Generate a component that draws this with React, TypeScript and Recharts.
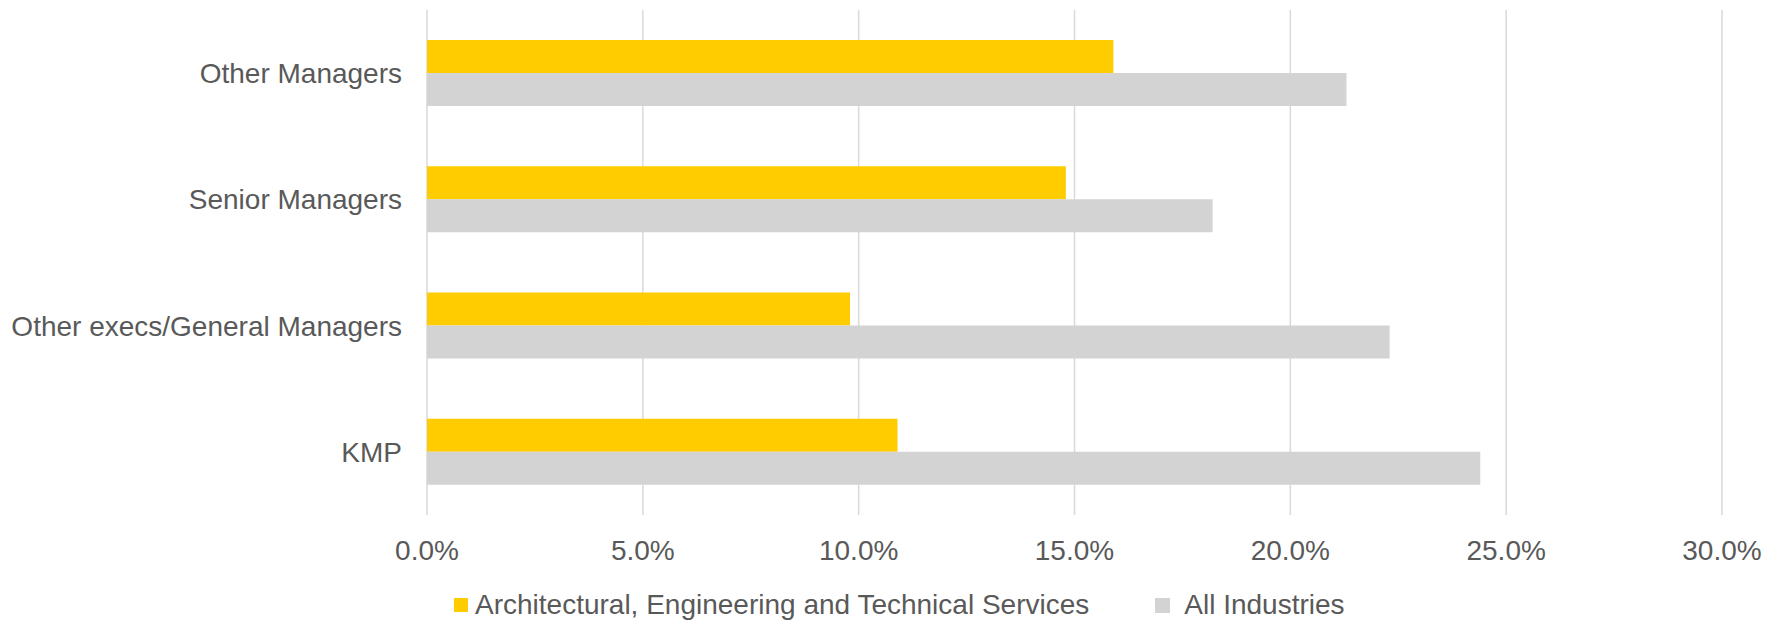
import React from "react";
import { BarChart, Bar, XAxis, YAxis, CartesianGrid } from "recharts";

const categories = ["Other Managers", "Senior Managers", "Other execs/General Managers", "KMP"];
const aetsValues = [15.9, 14.8, 9.8, 10.9];
const allIndustriesValues = [21.3, 18.2, 22.3, 24.4];
const xTicks = [0, 5, 10, 15, 20, 25, 30];
const seriesNames = ["Architectural, Engineering and Technical Services", "All Industries"];
const seriesColors = ["#FFCC00", "#D3D3D3"];

const data = categories.map((c, i) => ({
  name: c,
  aets: aetsValues[i],
  all: allIndustriesValues[i],
}));

const FONT = "'Liberation Sans', Arial, sans-serif";
const TEXT = "#595959";

export default function App() {
  return (
    <div style={{ position: "absolute", left: 0, top: 0, width: 1766, height: 621, background: "#fff", fontFamily: FONT }}>
      <BarChart
        width={1766}
        height={621}
        data={data}
        layout="vertical"
        margin={{ top: 10, right: 44, bottom: 66, left: 0 }}
        barCategoryGap={30}
        barGap={0}
      >
        <CartesianGrid horizontal={false} vertical={true} stroke="#d9d9d9" strokeWidth={1.5} />
        <XAxis
          type="number"
          domain={[0, 30]}
          ticks={xTicks}
          interval={0}
          tickFormatter={(v: number) => v.toFixed(1) + "%"}
          axisLine={false}
          tickLine={false}
          tickSize={0}
          tickMargin={25}
          height={40}
          tick={{ fill: TEXT, fontSize: 28, fontFamily: FONT }}
        />
        <YAxis
          type="category"
          dataKey="name"
          width={427}
          axisLine={false}
          tickLine={false}
          tickSize={0}
          tickMargin={25}
          interval={0}
          tick={{ fill: TEXT, fontSize: 28, fontFamily: FONT }}
        />
        <Bar dataKey="aets" name={seriesNames[0]} fill={seriesColors[0]} isAnimationActive={false} />
        <Bar dataKey="all" name={seriesNames[1]} fill={seriesColors[1]} isAnimationActive={false} />
      </BarChart>
      <div
        style={{
          position: "absolute",
          left: 454,
          top: 591,
          height: 28,
          display: "flex",
          alignItems: "center",
          fontSize: 28,
          lineHeight: "28px",
          color: TEXT,
          whiteSpace: "nowrap",
        }}
      >
        <span style={{ width: 14, height: 14, background: seriesColors[0], display: "inline-block", marginRight: 7 }} />
        <span style={{ marginRight: 66 }}>{seriesNames[0]}</span>
        <span style={{ width: 15, height: 15, background: seriesColors[1], display: "inline-block", marginRight: 14 }} />
        <span>{seriesNames[1]}</span>
      </div>
    </div>
  );
}
